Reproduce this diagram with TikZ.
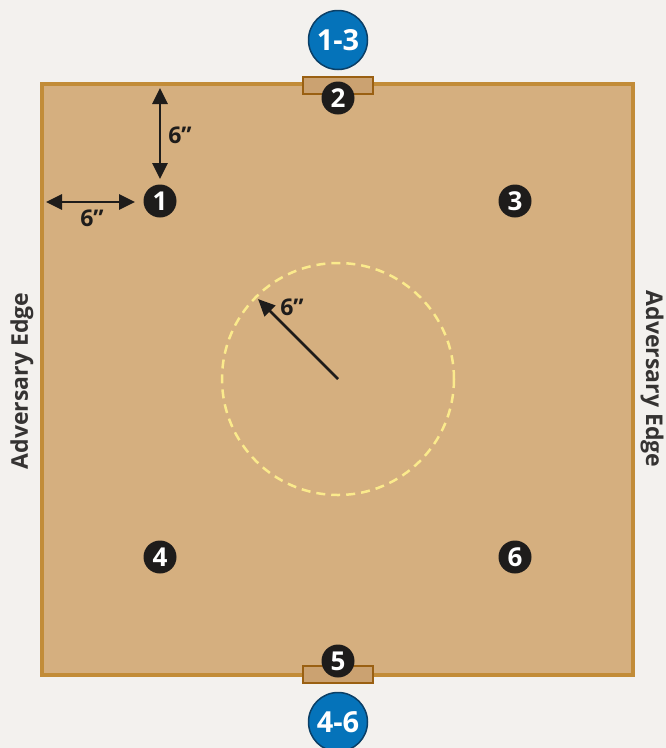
\documentclass[tikz,border=0pt]{standalone}
\usepackage{fontspec}
\setmainfont{Open Sans}
\definecolor{pagebg}{HTML}{F3F1EE}
\definecolor{boardfill}{HTML}{D5AF7F}
\definecolor{boardedge}{HTML}{C28C38}
\definecolor{tabfill}{HTML}{CBA271}
\definecolor{tabedge}{HTML}{9A6012}
\definecolor{markerblack}{HTML}{1E1C1B}
\definecolor{deployblue}{HTML}{0573BA}
\definecolor{deployedge}{HTML}{0B3F66}
\definecolor{ringyellow}{HTML}{FBEA8C}
\usetikzlibrary{positioning, arrows.meta}
\newcommand{\inch}{\symbol{34}}
\tikzset{
	marker/.style={
			circle,
			fill=markerblack,
			text=white,
			minimum size=33pt,
			inner sep=0pt,
			font=\bfseries\fontsize{26}{26}\selectfont
		},
	deploy/.style={
			circle,
			draw=deployedge,
			line width=1.5pt,
			fill=deployblue,
			text=white,
			minimum size=59pt,
			inner sep=0pt,
			font=\bfseries\fontsize{29}{29}\selectfont
		},
	tabbox/.style={
			rectangle,
			draw=tabedge,
			fill=tabfill,
			line width=2pt,
			minimum width=70pt,
			minimum height=17pt,
			inner sep=0pt
		},
	measure/.style={
			draw=markerblack,
			line width=2.8pt,
			{Triangle[length=16pt,width=15pt]}-{Triangle[length=16pt,width=15pt]}
		},
	radius/.style={
			draw=markerblack,
			line width=2.8pt,
			-{Triangle[length=17pt,width=15pt]}
		},
	dimlabel/.style={
			text=markerblack,
			inner sep=0pt,
			font=\bfseries\fontsize{23}{23}\selectfont
		},
	edgelabel/.style={
			text=markerblack!90,
			inner sep=0pt,
			font=\bfseries\fontsize{23}{23}\selectfont
		}
}

\begin{document}
\begin{tikzpicture}[x=1pt, y=-1pt]
\fill[pagebg] (0,0) rectangle (666,748);
\useasboundingbox (0,0) rectangle (666,748);

% board
\filldraw[fill=boardfill, draw=boardedge, line width=4pt] (42,84) rectangle (633,675);

% deployment zones
\node[tabbox] (tTop) at (338,85.5) {};
\node[tabbox] (tBot) at (338,674) {};

% centre ring
\coordinate (cMid) at (338,379);
\draw[ringyellow, line width=2.5pt, dash pattern=on 9pt off 6pt] (cMid) circle (116);
\coordinate (cRing) at (258,299);
\draw[radius] (cMid) -- (cRing);
\node[dimlabel] (lRing) at (292,307) {6\inch};

% objective markers
\node[marker] (m1) at (160,201) {1};
\node[marker] (m2) at (338,98) {2};
\node[marker] (m3) at (515,201) {3};
\node[marker] (m4) at (160,557) {4};
\node[marker] (m5) at (338,661) {5};
\node[marker] (m6) at (515,557) {6};

% distances from the edges
\coordinate (cTopEdge) at (160,88);
\coordinate (cAbove) at (160,179);
\coordinate (cLeftEdge) at (46,202);
\coordinate (cBeside) at (135,202);
\draw[measure] (cTopEdge) -- (cAbove);
\draw[measure] (cLeftEdge) -- (cBeside);
\node[dimlabel] (lTop) at (180,135) {6\inch};
\node[dimlabel] (lLeft) at (92,218) {6\inch};

% player markers
\node[deploy] (dTop) at (338,40) {1-3};
\node[deploy] (dBot) at (338,722) {4-6};

% edges
\node[edgelabel, rotate=90] (eLeft) at (22,381) {Adversary Edge};
\node[edgelabel, rotate=-90] (eRight) at (652,379) {Adversary Edge};

\end{tikzpicture}
\end{document}
